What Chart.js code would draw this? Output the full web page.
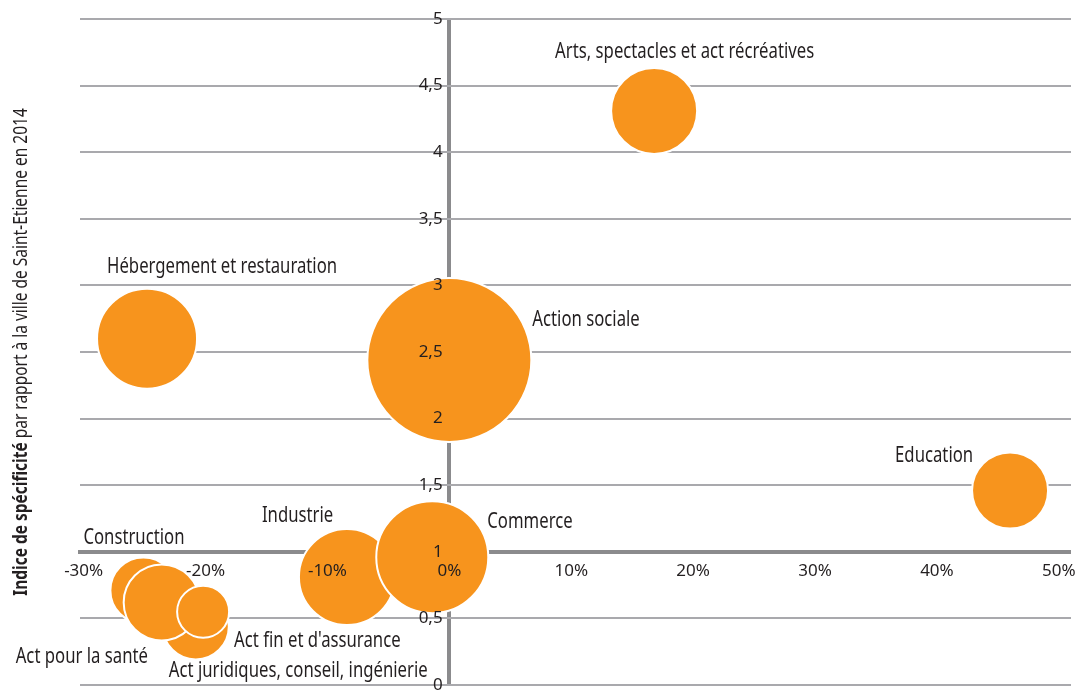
<!DOCTYPE html>
<html>
<head>
<meta charset="utf-8">
<script src="https://cdn.jsdelivr.net/npm/chart.js@4/dist/chart.umd.min.js"></script>
<style>
  html, body { margin: 0; padding: 0; background: #fff; }
  #wrap { width: 1083px; height: 691px; }
</style>
</head>
<body>
<div id="wrap"><canvas id="c" width="1083" height="691"></canvas></div>
<script>
// ---- data ----
const sectors = [
  "Hébergement et restauration",
  "Arts, spectacles et act récréatives",
  "Action sociale",
  "Education",
  "Construction",
  "Act juridiques, conseil, ingénierie",
  "Act pour la santé",
  "Act fin et d'assurance",
  "Industrie",
  "Commerce"
];
const evolution   = [-24.8, 16.8, 0.0, 46.0, -25.1, -20.8, -23.6, -20.2, -8.4, -1.4];   // x, %
const specificity = [2.60, 4.31, 2.44, 1.46, 0.71, 0.44, 0.62, 0.55, 0.81, 0.96];       // y
const bubbleSize  = [50, 43, 82, 38, 33, 33, 38, 26, 48, 56];                          // r
const xTicks = [-30, -20, -10, 0, 10, 20, 30, 40, 50];
const yTicks = [0, 0.5, 1, 1.5, 2, 2.5, 3, 3.5, 4, 4.5, 5];
const yTitleBold = "Indice de spécificité";
const yTitleRest = " par rapport à la ville de Saint-Etienne en 2014";

// ---- label layout (pixel offsets from bubble centre, left edge / baseline) ----
const labelOffsets = [
  [-40, -66], [-99, -53], [83, -34], [-115, -29], [-60, -46],
  [-27, 51], [-146, 61], [31, 35], [-85, -55], [55, -29]
];

const ORANGE = '#F7941D';
const TEXT = '#231F20';
const GRID = '#a9a9ad';
const AXIS = '#8b8b8d';
const FONT = "'Noto Sans', sans-serif";
const CONDENSE = 0.76;

function condensedText(ctx, text, x, y, k) {
  ctx.save();
  ctx.translate(x, y);
  ctx.scale(k, 1);
  ctx.fillText(text, 0, 0);
  ctx.restore();
}

const bubbleLabels = {
  id: 'bubbleLabels',
  afterDatasetsDraw(chart) {
    const ctx = chart.ctx;
    const meta = chart.getDatasetMeta(0);
    ctx.save();
    ctx.font = "22px " + FONT;
    ctx.fillStyle = TEXT;
    ctx.textAlign = 'left';
    ctx.textBaseline = 'alphabetic';
    meta.data.forEach((pt, i) => {
      const o = labelOffsets[i];
      condensedText(ctx, sectors[i], pt.x + o[0], pt.y + o[1], CONDENSE);
    });
    ctx.restore();
  }
};

const yTitle = {
  id: 'yTitle',
  afterDraw(chart) {
    const ctx = chart.ctx;
    ctx.save();
    const cx = 27, cy = 352;
    ctx.translate(cx, cy);
    ctx.rotate(-Math.PI / 2);
    ctx.scale(0.815, 1);
    const fb = "bold 19px " + FONT;
    const fr = "19px " + FONT;
    ctx.font = fb; const wb = ctx.measureText(yTitleBold).width;
    ctx.font = fr; const wr = ctx.measureText(yTitleRest).width;
    const start = -(wb + wr) / 2;
    ctx.fillStyle = TEXT;
    ctx.textBaseline = 'alphabetic';
    ctx.textAlign = 'left';
    ctx.font = fb; ctx.fillText(yTitleBold, start, 0);
    ctx.font = fr; ctx.fillText(yTitleRest, start + wb, 0);
    ctx.restore();
  }
};

const fmtY = v => String(v).replace('.', ',');
const fmtX = v => v + '%';
const setXTicks = s => { s.ticks = xTicks.map(v => ({ value: v })); };
const setYTicks = s => { s.ticks = yTicks.map(v => ({ value: v })); };
const noPad = s => { s.paddingTop = 0; s.paddingBottom = 0; s.paddingLeft = 0; s.paddingRight = 0; };

new Chart(document.getElementById('c'), {
  type: 'bubble',
  data: {
    datasets: [{
      data: sectors.map((s, i) => ({ x: evolution[i], y: specificity[i], r: bubbleSize[i] })),
      backgroundColor: ORANGE,
      borderColor: '#ffffff',
      borderWidth: 2,
      hoverRadius: 0
    }]
  },
  options: {
    responsive: false,
    animation: false,
    events: [],
    layout: { autoPadding: false, padding: { left: 80, right: 12, top: 19, bottom: 6 } },
    plugins: { legend: { display: false }, tooltip: { enabled: false } },
    scales: {
      x: {
        type: 'linear', min: -30.3, max: 51, position: { y: 1 },
        afterBuildTicks: setXTicks,
        afterFit: noPad,
        // vertical axis line at x = 0 drawn as the only visible x grid line
        grid: {
          display: true, drawTicks: false, z: -1,
          color: c => (c.tick && c.tick.value === 0) ? AXIS : 'rgba(0,0,0,0)',
          lineWidth: c => (c.tick && c.tick.value === 0) ? 4 : 0
        },
        border: { display: true, color: AXIS, width: 4, z: 0 },
        ticks: { display: true, z: 1, padding: 9, color: TEXT, font: { family: FONT, size: 17 }, callback: fmtX, maxRotation: 0, autoSkip: false }
      },
      y: {
        type: 'linear', min: 0, max: 5, position: { x: -0.55 },
        afterBuildTicks: setYTicks,
        afterFit: noPad,
        grid: { display: true, color: GRID, lineWidth: 2, drawTicks: false, z: -1 },
        border: { display: false },
        ticks: { display: true, z: 1, color: TEXT, font: { family: FONT, size: 17 }, callback: fmtY, autoSkip: false }
      }
    }
  },
  plugins: [bubbleLabels, yTitle]
});
</script>
</body>
</html>
